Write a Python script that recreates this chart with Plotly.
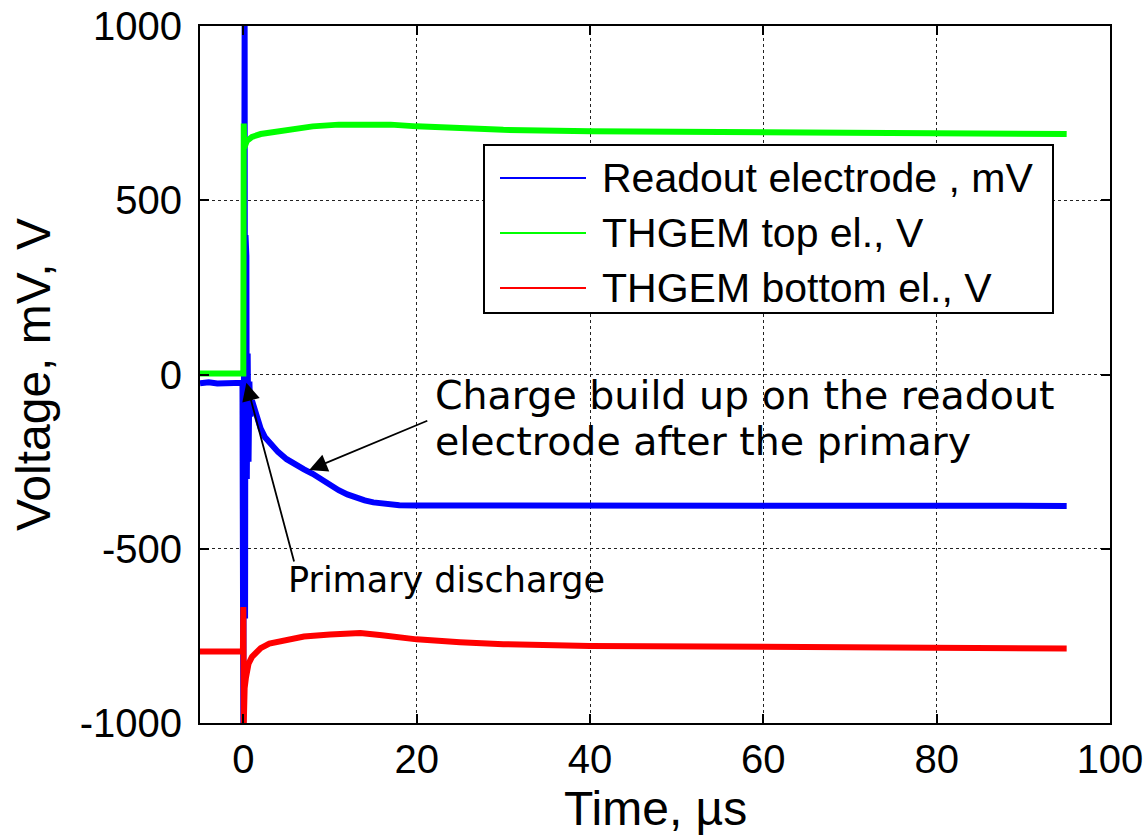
import plotly.graph_objects as go

# ---------------- data ----------------
blue_t = [-5, -4, -3, -2, -1, -0.1, 0.0, 0.05, 0.1, 0.15, 0.2, 0.25, 0.3, 0.35, 0.4, 0.5,
          0.6, 0.7, 0.8, 1.0, 1.5, 2, 2.5, 3, 4, 5, 6, 7, 8, 9, 10, 11, 12, 13, 14, 15,
          16, 17, 18, 20, 25, 30, 40, 50, 60, 70, 80, 90, 95]
blue_v = [-25, -22, -26, -24, -25, -24, -1000, 1000, -1000, 1000, -700, 400, -400, 340, -300, 60,
          -250, -20, -120, -75, -115, -155, -180, -195, -222, -243, -259, -272, -285, -302, -318, -332, -344, -354, -361, -367,
          -371, -373, -375, -376, -376, -376, -377, -376, -376, -377, -376, -376, -377]

green_t = [-5, -3, -1, -0.05, 0.0, 0.05, 0.1, 0.15, 0.25, 0.4, 0.6, 1, 2, 3.7, 5, 8, 11,
           14.7, 17, 20, 25, 30, 40, 50, 60, 70, 80, 90, 95]
green_v = [3, 2, 3, 2, 3, 720, 650, 715, 660, 670, 675, 682, 690, 697, 703, 712, 717,
           719, 717, 712, 706, 702, 698, 696, 694, 692, 691, 690, 690]

red_t = [-5, -3, -1, -0.05, 0.0, 0.05, 0.1, 0.15, 0.3, 0.6, 1, 2, 3, 5, 7, 10, 13.5,
         16, 20, 25, 30, 40, 50, 60, 70, 80, 90, 95]
red_v = [-795, -793, -795, -794, -667, -1000, -700, -900, -870, -830, -810, -785, -772, -760, -752, -746, -742,
         -748, -760, -768, -774, -779, -781, -783, -784, -785, -786, -786]

series_names = ["Readout electrode , mV", "THGEM top el., V", "THGEM bottom el., V"]
series_colors = ["#0000FF", "#00FF00", "#FF0000"]

x_ticks = [0, 20, 40, 60, 80, 100]
y_ticks = [-1000, -500, 0, 500, 1000]
y_tick_text = ["-1000", "-500", "0", "500", "1000"]

# ---------------- figure ----------------
fig = go.Figure()
for t, v, name, col in zip([blue_t, green_t, red_t], [blue_v, green_v, red_v],
                           series_names, series_colors):
    fig.add_trace(go.Scatter(x=t, y=v, mode="lines", name=name,
                             line=dict(color=col, width=6), showlegend=False))

L, R, T, B = 200, 37, 26, 115
W, H = 1147, 838
pw, ph = W - L - R, H - T - B

def px(xp):
    return (xp - L) / pw

def py(yp):
    return (H - B - yp) / ph

tick_font = dict(family="Liberation Sans, Arial", size=40, color="black")

fig.update_layout(
    width=W, height=H,
    margin=dict(l=L, r=R, t=T, b=B, autoexpand=False),
    paper_bgcolor="white", plot_bgcolor="white",
    xaxis=dict(range=[-5, 100], tickvals=x_ticks, ticks="inside", ticklen=9,
               tickwidth=1.5, tickcolor="black", showline=True, linecolor="black",
               linewidth=2, mirror="ticks", showgrid=True, gridcolor="#222222",
               griddash="dot", gridwidth=1, zeroline=False, tickfont=tick_font,
               automargin=False),
    yaxis=dict(range=[-1000, 1000], tickvals=y_ticks, ticktext=y_tick_text,
               ticks="inside", ticklen=9,
               tickwidth=1.5, tickcolor="black", showline=True, linecolor="black",
               linewidth=2, mirror="ticks", showgrid=True, gridcolor="#222222",
               griddash="dot", gridwidth=1, zeroline=False, tickfont=tick_font,
               ticklabelstandoff=8, automargin=False,
               title=dict(text="Voltage, mV, V", font=dict(family="Liberation Sans, Arial",
                          size=48, color="black"), standoff=14)),
)

# legend drawn as box + sample lines + text
shapes = [dict(type="rect", xref="paper", yref="paper", x0=px(484), x1=px(1053),
               y0=py(313), y1=py(145), fillcolor="white",
               line=dict(color="black", width=2), layer="above")]
annos = []
rows = [178, 233, 288]
for yr, name, col in zip(rows, series_names, series_colors):
    shapes.append(dict(type="line", xref="paper", yref="paper", x0=px(500), x1=px(586),
                       y0=py(yr), y1=py(yr), line=dict(color=col, width=2), layer="above"))
    annos.append(dict(xref="paper", yref="paper", x=px(600), y=py(yr), text=name,
                      showarrow=False, xanchor="left", yanchor="middle",
                      font=dict(family="Liberation Sans, Arial", size=41, color="black")))

# x-axis title
annos.append(dict(xref="paper", yref="paper", x=0.5, y=py(808), text="Time, \u00b5s",
                  showarrow=False, xanchor="center", yanchor="middle",
                  font=dict(family="Liberation Sans, Arial", size=48, color="black")))

# arrows
annos.append(dict(x=7.6, y=-274, ax=21.4, ay=-131, xref="x", yref="y", axref="x", ayref="y",
                  text="", showarrow=True, arrowhead=2, arrowsize=2.0, arrowwidth=1.8,
                  arrowcolor="black"))
annos.append(dict(x=0.35, y=-24, ax=5.9, ay=-541, xref="x", yref="y", axref="x", ayref="y",
                  text="", showarrow=True, arrowhead=2, arrowsize=2.0, arrowwidth=1.8,
                  arrowcolor="black"))
# arrow texts
big_font = dict(family="DejaVu Sans", size=39.5, color="black")
annos.append(dict(x=21.9, y=-60, xref="x", yref="y", showarrow=False, xanchor="left",
                  yanchor="middle", text="Charge build up on the readout", font=big_font))
annos.append(dict(x=21.9, y=-190, xref="x", yref="y", showarrow=False, xanchor="left",
                  yanchor="middle", text="electrode after the primary", font=big_font))
annos.append(dict(x=4.95, y=-590, xref="x", yref="y", showarrow=False, xanchor="left",
                  yanchor="middle", text="Primary discharge",
                  font=dict(family="DejaVu Sans", size=35, color="black")))

fig.update_layout(shapes=shapes, annotations=annos)
fig.write_html("out.html", config={"displayModeBar": False},
               post_script="document.body.style.margin='0px';"
                           "document.body.style.overflow='hidden';"
                           "document.documentElement.style.overflow='hidden';")
